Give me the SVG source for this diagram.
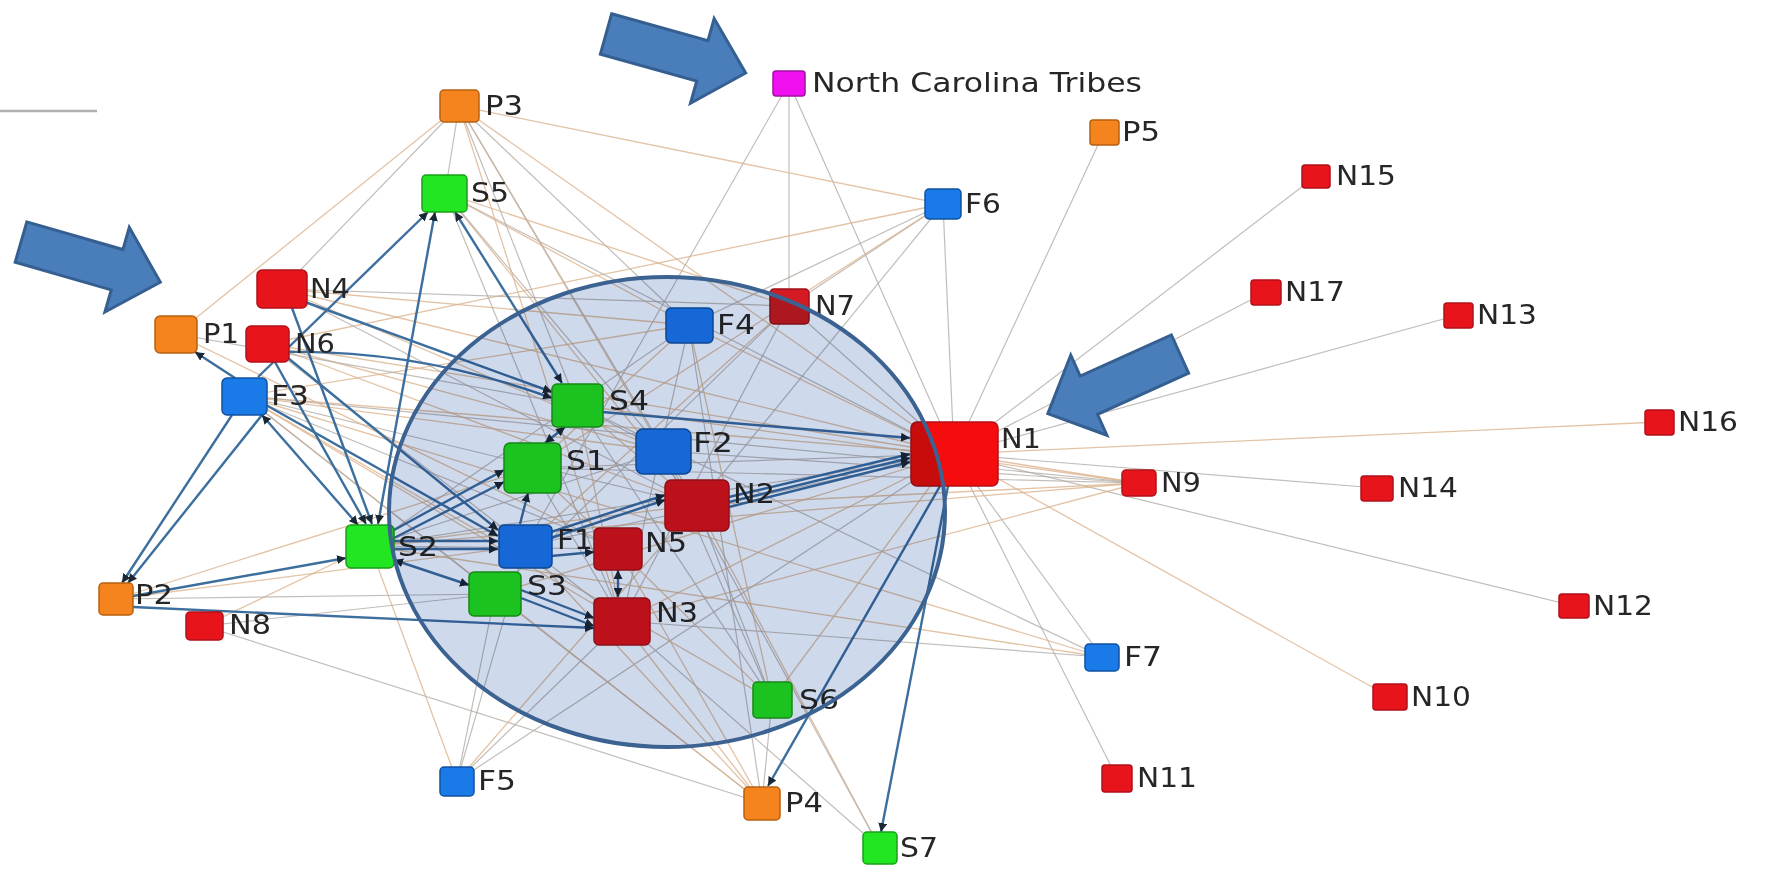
<svg xmlns="http://www.w3.org/2000/svg" width="1768" height="873" viewBox="0 0 1768 873">
<defs>
<style>
.t1{stroke:#dcb48e;stroke-width:1.3;fill:none;opacity:.8}
.t2{stroke:#b3aca6;stroke-width:1.2;fill:none;opacity:.8}
.b{stroke:#3c6e9e;stroke-width:2.4;fill:none;marker-end:url(#ah)}
.bb{stroke:#3c6e9e;stroke-width:2.4;fill:none;marker-end:url(#ah);marker-start:url(#as)}
.N{fill:#e8141c;stroke:#b01018;stroke-width:1.5}
.Nd{fill:#d41a22;stroke:#a01018;stroke-width:1.5}
.S{fill:#22e622;stroke:#18a018;stroke-width:1.5}
.F{fill:#1a7ae8;stroke:#1052a0;stroke-width:1.5}
.P{fill:#f5841f;stroke:#b86010;stroke-width:1.5}
.M{fill:#f010f0;stroke:#a010a0;stroke-width:1.5}
text{font-family:"DejaVu Sans","Liberation Sans",sans-serif;font-size:27px;fill:#262626}
.arrow{fill:#4a7ebb;stroke:#365f91;stroke-width:3;stroke-linejoin:miter}
</style>
<marker id="ah" viewBox="0 0 10 10" refX="10" refY="5" markerWidth="9" markerHeight="9" markerUnits="userSpaceOnUse" orient="auto">
<path d="M0,0 L10,5 L0,10 z" fill="#1a2836"/>
</marker>
<marker id="as" viewBox="0 0 10 10" refX="0" refY="5" markerWidth="9" markerHeight="9" markerUnits="userSpaceOnUse" orient="auto">
<path d="M10,0 L0,5 L10,10 z" fill="#1a2836"/>
</marker>
</defs>
<rect width="1768" height="873" fill="#ffffff"/>
<line x1="0" y1="111" x2="97" y2="111" stroke="#b0b0b0" stroke-width="2.5"/>

<g id="connectors">
<g id="thin">
<path class="t2" d="M954 454L1316 176"/>
<path class="t2" d="M954 454L1266 292"/>
<path class="t2" d="M954 454L1458 315"/>
<path class="t1" d="M954 454L1659 422"/>
<path class="t2" d="M954 454L1377 488"/>
<path class="t2" d="M954 454L1574 606"/>
<path class="t1" d="M954 454L1390 697"/>
<path class="t2" d="M954 454L1117 778"/>
<path class="t1" d="M954 454L1139 483"/>
<path class="t2" d="M954 454L1102 657"/>
<path class="t2" d="M954 454L1104 132"/>
<path class="t2" d="M954 454L943 204"/>
<path class="t2" d="M954 454L789 83"/>
<path class="t1" d="M954 454L459 106"/>
<path class="t2" d="M954 454L445 193"/>
<path class="t1" d="M954 454L282 289"/>
<path class="t1" d="M954 454L244 396"/>
<path class="t2" d="M954 454L370 546"/>
<path class="t1" d="M954 454L689 325"/>
<path class="t2" d="M954 454L789 306"/>
<path class="t1" d="M954 454L772 700"/>
<path class="t2" d="M954 454L457 781"/>
<path class="t1" d="M954 454L495 594"/>
<path class="t2" d="M954 454L532 468"/>
<path class="t1" d="M954 454L622 621"/>
<path class="t2" d="M954 454L525 546"/>
<path class="t1" d="M954 454L267 344"/>
<path class="t2" d="M789 83L789 306"/>
<path class="t2" d="M789 83L525 546"/>
<path class="t1" d="M943 204L459 106"/>
<path class="t1" d="M943 204L267 344"/>
<path class="t2" d="M943 204L789 306"/>
<path class="t2" d="M943 204L689 325"/>
<path class="t1" d="M943 204L532 468"/>
<path class="t2" d="M943 204L697 505"/>
<path class="t2" d="M789 306L495 594"/>
<path class="t2" d="M789 306L622 621"/>
<path class="t1" d="M789 306L525 546"/>
<path class="t2" d="M459 106L445 193"/>
<path class="t1" d="M459 106L176 334"/>
<path class="t2" d="M459 106L282 289"/>
<path class="t2" d="M459 106L577 405"/>
<path class="t1" d="M459 106L663 451"/>
<path class="t2" d="M459 106L697 505"/>
<path class="t1" d="M459 106L622 621"/>
<path class="t2" d="M459 106L689 325"/>
<path class="t1" d="M445 193L697 505"/>
<path class="t2" d="M445 193L663 451"/>
<path class="t1" d="M445 193L789 306"/>
<path class="t2" d="M445 193L622 621"/>
<path class="t1" d="M445 193L689 325"/>
<path class="t1" d="M1139 483L370 546"/>
<path class="t2" d="M1139 483L244 396"/>
<path class="t1" d="M1139 483L622 621"/>
<path class="t2" d="M1139 483L532 468"/>
<path class="t1" d="M1139 483L697 505"/>
<path class="t2" d="M1139 483L663 451"/>
<path class="t1" d="M1139 483L577 405"/>
<path class="t2" d="M1102 657L622 621"/>
<path class="t1" d="M1102 657L370 546"/>
<path class="t2" d="M1102 657L577 405"/>
<path class="t1" d="M1102 657L244 396"/>
<path class="t2" d="M772 700L697 505"/>
<path class="t1" d="M772 700L689 325"/>
<path class="t2" d="M772 700L663 451"/>
<path class="t1" d="M772 700L618 549"/>
<path class="t2" d="M772 700L577 405"/>
<path class="t1" d="M772 700L244 396"/>
<path class="t2" d="M880 848L622 621"/>
<path class="t1" d="M880 848L697 505"/>
<path class="t2" d="M880 848L663 451"/>
<path class="t1" d="M762 803L622 621"/>
<path class="t2" d="M762 803L495 594"/>
<path class="t1" d="M762 803L618 549"/>
<path class="t2" d="M762 803L689 325"/>
<path class="t2" d="M762 803L204 626"/>
<path class="t1" d="M762 803L525 546"/>
<path class="t2" d="M762 803L772 700"/>
<path class="t1" d="M762 803L244 396"/>
<path class="t2" d="M457 781L495 594"/>
<path class="t1" d="M457 781L370 546"/>
<path class="t2" d="M457 781L622 621"/>
<path class="t1" d="M457 781L697 505"/>
<path class="t2" d="M457 781L525 546"/>
<path class="t1" d="M204 626L370 546"/>
<path class="t2" d="M204 626L495 594"/>
<path class="t1" d="M116 599L532 468"/>
<path class="t2" d="M116 599L495 594"/>
<path class="t1" d="M116 599L525 546"/>
<path class="t2" d="M689 325L370 546"/>
<path class="t1" d="M689 325L244 396"/>
<path class="t2" d="M689 325L622 621"/>
<path class="t1" d="M689 325L532 468"/>
<path class="t1" d="M689 325L282 289"/>
<path class="t2" d="M244 396L697 505"/>
<path class="t1" d="M244 396L622 621"/>
<path class="t2" d="M244 396L618 549"/>
<path class="t1" d="M244 396L663 451"/>
<path class="t2" d="M244 396L495 594"/>
<path class="t2" d="M282 289L697 505"/>
<path class="t1" d="M282 289L663 451"/>
<path class="t2" d="M282 289L789 306"/>
<path class="t1" d="M267 344L697 505"/>
<path class="t2" d="M267 344L622 621"/>
<path class="t1" d="M267 344L663 451"/>
<path class="t2" d="M176 334L577 405"/>
<path class="t1" d="M176 334L618 549"/>
<path class="t2" d="M370 546L618 549"/>
<path class="t1" d="M370 546L697 505"/>
<path class="t2" d="M370 546L663 451"/>
<path class="t1" d="M577 405L697 505"/>
<path class="t2" d="M577 405L663 451"/>
<path class="t1" d="M577 405L622 621"/>
<path class="t2" d="M532 468L622 621"/>
<path class="t1" d="M532 468L618 549"/>
</g>
<g id="strong">
<path class="bb" d="M455 212L562 383"/>
<path class="bb" d="M378 524L435 212"/>
<path class="b" d="M258 377L428 212"/>
<path class="b" d="M305 302L552 392"/>
<path class="b" d="M288 352Q420 350 552 398"/>
<path class="b" d="M232 415L122 583"/>
<path class="b" d="M262 415L128 583"/>
<path class="bb" d="M262 415L358 525"/>
<path class="b" d="M275 362L366 524"/>
<path class="b" d="M292 308L372 524"/>
<path class="b" d="M235 378L195 352"/>
<path class="b" d="M133 596L346 558"/>
<path class="b" d="M133 607L594 628"/>
<path class="b" d="M394 541L498 541"/>
<path class="b" d="M394 549L498 549"/>
<path class="bb" d="M394 560L469 585"/>
<path class="b" d="M394 530L504 470"/>
<path class="b" d="M394 538L504 482"/>
<path class="bb" d="M545 443L565 427"/>
<path class="b" d="M520 524L528 493"/>
<path class="b" d="M551 556L594 552"/>
<path class="b" d="M551 532L665 495"/>
<path class="b" d="M551 538L665 500"/>
<path class="b" d="M521 590L594 618"/>
<path class="b" d="M521 598L594 626"/>
<path class="bb" d="M618 570L618 597"/>
<path class="b" d="M602 412L910 438"/>
<path class="b" d="M729 497L910 454"/>
<path class="b" d="M729 502L910 458"/>
<path class="b" d="M729 507L910 462"/>
<path class="b" d="M940 486L768 786"/>
<path class="b" d="M948 486L881 832"/>
<path class="b" d="M266 405L498 536"/>
<path class="b" d="M288 358L498 530"/>
</g>
</g>

<g id="P3"><rect class="P" x="440" y="90" width="39" height="32" rx="4"/><text x="485" y="115" textLength="38" lengthAdjust="spacingAndGlyphs">P3</text></g>
<g id="NCT"><rect class="M" x="773" y="71" width="32" height="25" rx="3"/><text x="812" y="92" textLength="330" lengthAdjust="spacingAndGlyphs">North Carolina Tribes</text></g>
<g id="P5"><rect class="P" x="1090" y="120" width="29" height="25" rx="3"/><text x="1122" y="141" textLength="38" lengthAdjust="spacingAndGlyphs">P5</text></g>
<g id="N15"><rect class="N" x="1302" y="165" width="28" height="23" rx="3"/><text x="1336" y="185" textLength="60" lengthAdjust="spacingAndGlyphs">N15</text></g>
<g id="S5"><rect class="S" x="422" y="175" width="45" height="37" rx="4"/><text x="471" y="202" textLength="38" lengthAdjust="spacingAndGlyphs">S5</text></g>
<g id="F6"><rect class="F" x="925" y="189" width="36" height="30" rx="4"/><text x="965" y="213" textLength="36" lengthAdjust="spacingAndGlyphs">F6</text></g>
<g id="N4"><rect class="N" x="257" y="270" width="50" height="38" rx="5"/><text x="310" y="298" textLength="40" lengthAdjust="spacingAndGlyphs">N4</text></g>
<g id="N7"><rect class="Nd" x="770" y="289" width="39" height="35" rx="4"/><text x="815" y="315" textLength="40" lengthAdjust="spacingAndGlyphs">N7</text></g>
<g id="N17"><rect class="N" x="1251" y="280" width="30" height="25" rx="3"/><text x="1285" y="301" textLength="60" lengthAdjust="spacingAndGlyphs">N17</text></g>
<g id="N13"><rect class="N" x="1444" y="303" width="29" height="25" rx="3"/><text x="1477" y="324" textLength="60" lengthAdjust="spacingAndGlyphs">N13</text></g>
<g id="P1"><rect class="P" x="155" y="316" width="42" height="37" rx="5"/><text x="203" y="343" textLength="36" lengthAdjust="spacingAndGlyphs">P1</text></g>
<g id="N6"><rect class="N" x="246" y="326" width="43" height="36" rx="5"/><text x="295" y="353" textLength="40" lengthAdjust="spacingAndGlyphs">N6</text></g>
<g id="F4"><rect class="F" x="666" y="308" width="47" height="35" rx="5"/><text x="717" y="334" textLength="38" lengthAdjust="spacingAndGlyphs">F4</text></g>
<g id="F3"><rect class="F" x="222" y="378" width="45" height="37" rx="5"/><text x="271" y="405" textLength="38" lengthAdjust="spacingAndGlyphs">F3</text></g>
<g id="S4"><rect class="S" x="552" y="384" width="51" height="43" rx="5"/><text x="609" y="410" textLength="40" lengthAdjust="spacingAndGlyphs">S4</text></g>
<g id="N1"><rect fill="#f50d0d" stroke="#b01018" stroke-width="1.5" x="911" y="422" width="87" height="64" rx="6"/><text x="1001" y="448" textLength="40" lengthAdjust="spacingAndGlyphs">N1</text></g>
<g id="N16"><rect class="N" x="1645" y="410" width="29" height="25" rx="3"/><text x="1678" y="431" textLength="60" lengthAdjust="spacingAndGlyphs">N16</text></g>
<g id="F2"><rect class="F" x="636" y="429" width="55" height="45" rx="7"/><text x="693" y="452" textLength="40" lengthAdjust="spacingAndGlyphs">F2</text></g>
<g id="S1"><rect class="S" x="504" y="443" width="57" height="50" rx="6"/><text x="566" y="470" textLength="40" lengthAdjust="spacingAndGlyphs">S1</text></g>
<g id="N9"><rect class="N" x="1122" y="470" width="34" height="26" rx="4"/><text x="1161" y="492" textLength="40" lengthAdjust="spacingAndGlyphs">N9</text></g>
<g id="N14"><rect class="N" x="1361" y="476" width="32" height="25" rx="3"/><text x="1398" y="497" textLength="60" lengthAdjust="spacingAndGlyphs">N14</text></g>
<g id="N2"><rect class="N" x="665" y="480" width="64" height="51" rx="6"/><text x="733" y="503" textLength="42" lengthAdjust="spacingAndGlyphs">N2</text></g>
<g id="S2"><rect class="S" x="346" y="525" width="48" height="43" rx="5"/><text x="398" y="556" textLength="40" lengthAdjust="spacingAndGlyphs">S2</text></g>
<g id="F1"><rect class="F" x="499" y="525" width="53" height="43" rx="5"/><text x="557" y="549" textLength="36" lengthAdjust="spacingAndGlyphs">F1</text></g>
<g id="N5"><rect class="N" x="594" y="528" width="48" height="42" rx="5"/><text x="645" y="552" textLength="42" lengthAdjust="spacingAndGlyphs">N5</text></g>
<g id="S3"><rect class="S" x="469" y="572" width="52" height="44" rx="5"/><text x="527" y="595" textLength="40" lengthAdjust="spacingAndGlyphs">S3</text></g>
<g id="P2"><rect class="P" x="99" y="583" width="34" height="32" rx="4"/><text x="135" y="604" textLength="38" lengthAdjust="spacingAndGlyphs">P2</text></g>
<g id="N8"><rect class="N" x="186" y="612" width="37" height="28" rx="4"/><text x="229" y="634" textLength="42" lengthAdjust="spacingAndGlyphs">N8</text></g>
<g id="N12"><rect class="N" x="1559" y="594" width="30" height="24" rx="3"/><text x="1593" y="615" textLength="60" lengthAdjust="spacingAndGlyphs">N12</text></g>
<g id="N3"><rect class="N" x="594" y="598" width="56" height="47" rx="5"/><text x="656" y="622" textLength="42" lengthAdjust="spacingAndGlyphs">N3</text></g>
<g id="F7"><rect class="F" x="1085" y="644" width="34" height="27" rx="4"/><text x="1124" y="666" textLength="38" lengthAdjust="spacingAndGlyphs">F7</text></g>
<g id="S6"><rect class="S" x="753" y="682" width="39" height="36" rx="4"/><text x="799" y="709" textLength="40" lengthAdjust="spacingAndGlyphs">S6</text></g>
<g id="N10"><rect class="N" x="1373" y="684" width="34" height="26" rx="3"/><text x="1411" y="706" textLength="60" lengthAdjust="spacingAndGlyphs">N10</text></g>
<g id="F5"><rect class="F" x="440" y="767" width="34" height="29" rx="4"/><text x="478" y="790" textLength="38" lengthAdjust="spacingAndGlyphs">F5</text></g>
<g id="N11"><rect class="N" x="1102" y="765" width="30" height="27" rx="3"/><text x="1137" y="787" textLength="60" lengthAdjust="spacingAndGlyphs">N11</text></g>
<g id="P4"><rect class="P" x="744" y="787" width="36" height="33" rx="4"/><text x="785" y="812" textLength="38" lengthAdjust="spacingAndGlyphs">P4</text></g>
<g id="S7"><rect class="S" x="863" y="832" width="34" height="32" rx="4"/><text x="900" y="857" textLength="38" lengthAdjust="spacingAndGlyphs">S7</text></g>

<g id="highlight-circle">
<ellipse cx="667" cy="512" rx="278" ry="235" fill="#cfd9ec" style="mix-blend-mode:multiply"/>
<ellipse cx="667" cy="512" rx="278" ry="235" fill="none" stroke="#3b6290" stroke-width="4"/>
</g>

<g id="callout-arrows">
<polygon class="arrow" points="0,-21 100,-21 100,-44 145,0 100,44 100,21 0,21" transform="translate(606,34) rotate(15.6)"/>
<polygon class="arrow" points="0,-21 100,-21 100,-44 145,0 100,44 100,21 0,21" transform="translate(21,242) rotate(16.1)"/>
<polygon class="arrow" points="0,-21 100,-21 100,-44 145,0 100,44 100,21 0,21" transform="translate(1180,354) rotate(155.7)"/>
</g>
</svg>
